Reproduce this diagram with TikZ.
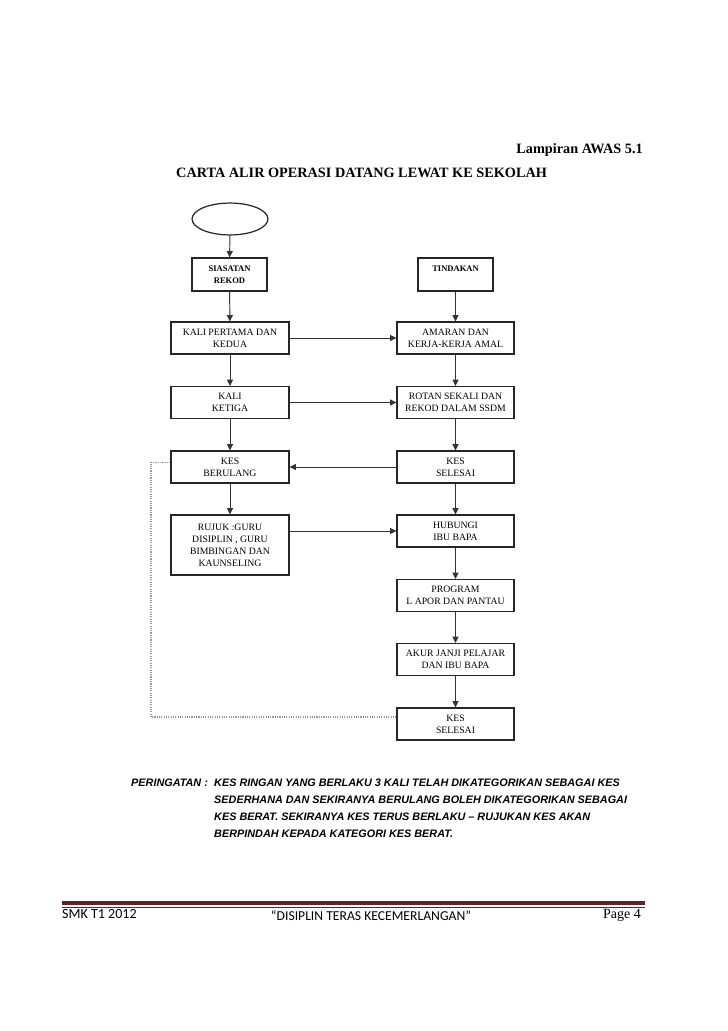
\documentclass[tikz,border=0pt]{standalone}
\usepackage{fontspec}
\setmainfont{Liberation Serif}
\newfontfamily\warnfont{Liberation Sans}
\newfontfamily\footfont{Carlito}
\usepackage{tikz}
\usetikzlibrary{positioning}
\usetikzlibrary{arrows.meta}
\usetikzlibrary{shapes.geometric}
\colorlet{boxlinec}{black!85}
\colorlet{arrowc}{black!80}
\colorlet{dotc}{black!40}
\definecolor{footc}{HTML}{622423}

\begin{document}
\begin{tikzpicture}[x=0.2885mm,y=-0.2885mm,
        flowbox/.style={draw=boxlinec,line width=1pt,shape=rectangle,inner sep=0pt,align=center,font=\fontsize{8}{9.8}\selectfont},
        leftbox/.style={flowbox,minimum width=34.0mm,minimum height=9.2mm},
        rightbox/.style={flowbox,minimum width=33.75mm,minimum height=9.2mm},
        headbox/.style={flowbox,minimum width=21.6mm,minimum height=9.5mm,font=\bfseries\fontsize{7}{9.4}\selectfont},
        flowarrow/.style={draw=arrowc,line width=0.8pt,-{Triangle[length=1.8mm,width=1.7mm]}},
        dotline/.style={draw=dotc,line width=0.9pt,densely dotted}]

        \useasboundingbox[fill=white] (0,0) rectangle (728,1031);

        \node[anchor=base east,inner sep=0pt,font=\bfseries\fontsize{11.7}{14}\selectfont]
        (lampiran) at (643,153) {Lampiran AWAS 5.1};
        \node[anchor=base west,inner sep=0pt,font=\bfseries\fontsize{11.7}{14}\selectfont]
        (title) at (176,177) {CARTA ALIR OPERASI DATANG LEWAT KE SEKOLAH};

        \node[draw=boxlinec,line width=1pt,shape=ellipse,inner sep=0pt,minimum width=21.9mm,minimum height=9.2mm]
        (start) at (230,219) {};
        \node[headbox] (siasatan) at (229.5,274.5) {SIASATAN\\REKOD};
        \node[headbox] (tindakan) at (455.5,274.5) {TINDAKAN\\~};

        \node[leftbox] (pertama) at (230,338) {KALI PERTAMA DAN\\KEDUA};
        \node[leftbox] (ketiga) at (230,402.5) {KALI\\KETIGA};
        \node[leftbox] (berulang) at (230,467) {KES\\BERULANG};
        \node[leftbox,minimum height=17.3mm] (rujuk) at (230,545) {RUJUK :GURU\\DISIPLIN , GURU\\BIMBINGAN DAN\\KAUNSELING};

        \node[rightbox] (amaran) at (455.5,338) {AMARAN DAN\\KERJA-KERJA AMAL};
        \node[rightbox] (rotan) at (455.5,402.5) {ROTAN SEKALI DAN\\REKOD DALAM SSDM};
        \node[rightbox] (selesai) at (455.5,467) {KES\\SELESAI};
        \node[rightbox] (hubungi) at (455.5,531) {HUBUNGI\\IBU BAPA};
        \node[rightbox] (program) at (455.5,595.5) {PROGRAM\\L APOR DAN PANTAU};
        \node[rightbox] (akur) at (455.5,659.5) {AKUR JANJI PELAJAR\\DAN IBU BAPA};
        \node[rightbox] (selesaiakhir) at (455.5,724) {KES\\SELESAI};

        \draw[flowarrow] (start) -- (siasatan);
        \draw[flowarrow] (siasatan) -- (pertama);
        \draw[flowarrow] (pertama) -- (ketiga);
        \draw[flowarrow] (ketiga) -- (berulang);
        \draw[flowarrow] (berulang) -- (rujuk);
        \draw[flowarrow] (tindakan) -- (amaran);
        \draw[flowarrow] (amaran) -- (rotan);
        \draw[flowarrow] (rotan) -- (selesai);
        \draw[flowarrow] (selesai) -- (hubungi);
        \draw[flowarrow] (hubungi) -- (program);
        \draw[flowarrow] (program) -- (akur);
        \draw[flowarrow] (akur) -- (selesaiakhir);
        \draw[flowarrow] (pertama) -- (amaran);
        \draw[flowarrow] (ketiga) -- (rotan);
        \draw[flowarrow] (selesai) -- (berulang);
        \draw[flowarrow] (hubungi.west -| rujuk.east) -- (hubungi.west);

        \coordinate (dotcorner) at (151,717);
        \draw[dotline] ([yshift=1.4mm]berulang.west) -| (dotcorner) -- (dotcorner -| selesaiakhir.west);

        \node[anchor=base west,inner sep=0pt,font=\warnfont\bfseries\itshape\fontsize{8.9}{13.9}\selectfont]
        (peringatan) at (131,786) {PERINGATAN :};
        \node[anchor=north west,inner sep=0pt,align=left,font=\warnfont\bfseries\itshape\fontsize{8.9}{13.9}\selectfont]
        (notis) at (214,778.5) {KES RINGAN YANG BERLAKU 3 KALI TELAH DIKATEGORIKAN SEBAGAI KES\\
        SEDERHANA DAN SEKIRANYA BERULANG BOLEH DIKATEGORIKAN SEBAGAI\\
        KES BERAT. SEKIRANYA KES TERUS BERLAKU – RUJUKAN KES AKAN\\
        BERPINDAH KEPADA KATEGORI KES BERAT.};

        \coordinate (footl) at (62,903);
        \coordinate (footr) at (645,903);
        \draw[footc,line width=2.6pt] (footl) -- (footr);
        \draw[footc,line width=0.7pt] ([yshift=-1.2mm]footl) -- ([yshift=-1.2mm]footr);

        \node[anchor=base west,inner sep=0pt,font=\footfont\fontsize{11.5}{13}\selectfont]
        (sekolah) at (62,918) {SMK T1 2012};
        \node[anchor=base,inner sep=0pt,font=\footfont\fontsize{11.2}{13}\selectfont]
        (moto) at (371,920) {“DISIPLIN TERAS KECEMERLANGAN”};
        \node[anchor=base east,inner sep=0pt,font=\fontsize{11.5}{13}\selectfont]
        (muka) at (641,918) {Page 4};

\end{tikzpicture}
\end{document}
